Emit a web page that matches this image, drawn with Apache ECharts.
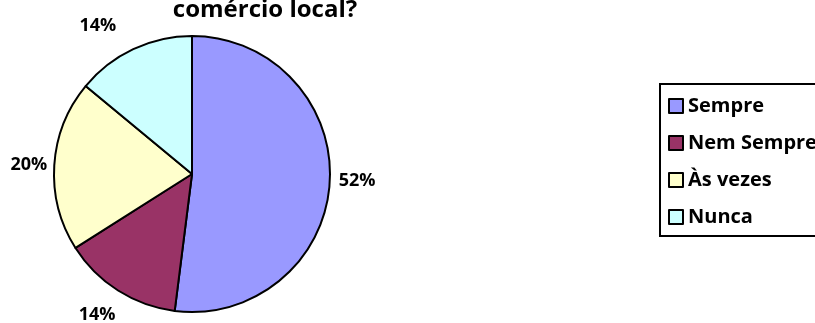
<!DOCTYPE html>
<html><head><meta charset="utf-8">
<script src="https://cdn.jsdelivr.net/npm/echarts@6/dist/echarts.min.js"></script>
<style>html,body{margin:0;padding:0;background:#fff}#c{width:815px;height:323px}</style>
</head><body><div id="c"></div>
<script>
const titleText = 'comércio local?';
const categories = ['Sempre', 'Nem Sempre', 'Às vezes', 'Nunca'];
const values = [52, 14, 20, 14];
const colors = ['#9999FF', '#993366', '#FFFFCC', '#CCFFFF'];
const labelShift = [[-5, -3], [5, 13], [7, 0], [-11, -11]];

const chart = echarts.init(document.getElementById('c'), null, {renderer: 'canvas'});
const font = '"Open Sans", sans-serif';
chart.setOption({
  animation: false,
  title: {
    text: titleText, left: 260, top: -7, textAlign: 'center',
    textStyle: {fontFamily: font, fontWeight: 'bold', fontSize: 24, color: '#000'}
  },
  legend: {
    orient: 'vertical', left: 660, top: 84,
    padding: [12, 40, 9, 8], itemGap: 17, itemWidth: 14, itemHeight: 14,
    borderColor: '#000', borderWidth: 2,
    icon: 'rect',
    itemStyle: {borderColor: '#000', borderWidth: 2},
    textStyle: {fontFamily: font, fontWeight: 'bold', fontSize: 20, color: '#000'},
    data: categories
  },
  series: [{
    type: 'pie', center: [192, 174], radius: 138, startAngle: 90, clockwise: true,
    data: categories.map((n, i) => ({name: n, value: values[i], itemStyle: {color: colors[i]}})),
    itemStyle: {borderColor: '#000', borderWidth: 2},
    label: {
      show: true, position: 'outside', formatter: '{d}%',
      fontFamily: font, fontWeight: 'bold', fontSize: 18, color: '#000',
      distanceToLabelLine: 0, overflow: 'none', edgeDistance: 0, bleedMargin: 0
    },
    labelLine: {show: false, length: 14, length2: 0},
    labelLayout: function (p) {
      const s = labelShift[p.dataIndex];
      return {dx: s[0], dy: s[1]};
    },
    emphasis: {disabled: true}
  }]
});
</script></body></html>
